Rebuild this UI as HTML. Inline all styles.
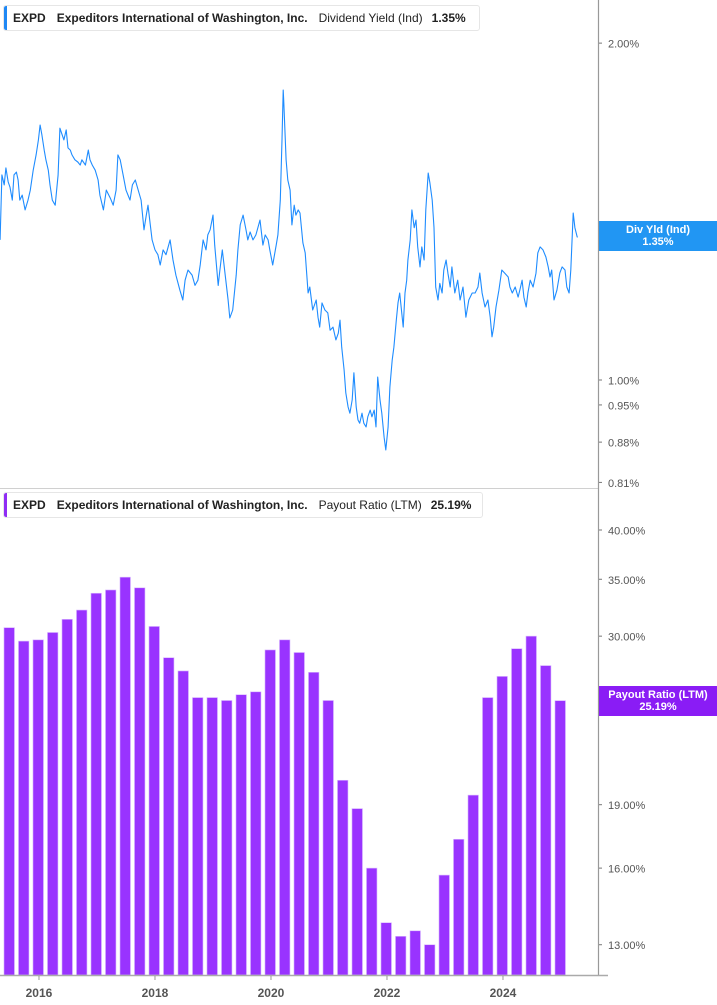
<!DOCTYPE html>
<html><head><meta charset="utf-8"><style>
body{margin:0;background:#fff;font-family:"Liberation Sans",sans-serif;}
#wrap{position:relative;width:717px;height:1005px;overflow:hidden;}
.legend{position:absolute;left:3px;height:24px;border:1px solid #e6e6e6;border-radius:3px;background:#fff;font-size:12px;line-height:24px;color:#222;white-space:nowrap;padding-left:9px;padding-right:10px;overflow:hidden;}
.legend .mk{position:absolute;left:0;top:0;width:3px;height:24px;border-radius:2px 0 0 2px;}
.legend b{font-weight:bold;margin-right:11px;}
.legend span{margin-right:9px;}
.tag{position:absolute;left:599px;width:118px;color:#fff;font-size:11px;font-weight:bold;text-align:center;line-height:12px;padding-top:3px;}
</style></head><body>
<div id="wrap">
<svg id="svg" width="717" height="1005" style="position:absolute;left:0;top:0"></svg>
<div class="legend" style="top:5px;width:456px"><div class="mk" style="background:#1e88f5"></div><b>EXPD</b><b>Expeditors International of Washington, Inc.</b><span>Dividend Yield (Ind)</span><b>1.35%</b></div>
<div class="legend" style="top:492px;width:459px"><div class="mk" style="background:#8f2cf5"></div><b>EXPD</b><b>Expeditors International of Washington, Inc.</b><span>Payout Ratio (LTM)</span><b>25.19%</b></div>
<div class="tag" style="top:221px;height:27px;background:#2196f3">Div Yld (Ind)<br>1.35%</div>
<div class="tag" style="top:686px;height:27px;background:#8a1cf5">Payout Ratio (LTM)<br>25.19%</div>
</div>
<script>
const yieldDates=[2015.33,2015.36,2015.40,2015.43,2015.47,2015.50,2015.54,2015.57,2015.61,2015.64,2015.67,2015.71,2015.76,2015.81,2015.85,2015.90,2015.95,2015.99,2016.02,2016.05,2016.09,2016.12,2016.16,2016.19,2016.23,2016.28,2016.33,2016.36,2016.40,2016.43,2016.47,2016.50,2016.54,2016.57,2016.62,2016.67,2016.71,2016.74,2016.80,2016.85,2016.88,2016.92,2016.97,2017.02,2017.05,2017.11,2017.16,2017.23,2017.28,2017.33,2017.36,2017.40,2017.45,2017.50,2017.57,2017.61,2017.66,2017.71,2017.76,2017.81,2017.85,2017.88,2017.92,2017.95,2018.00,2018.05,2018.09,2018.14,2018.19,2018.26,2018.31,2018.36,2018.43,2018.48,2018.52,2018.57,2018.64,2018.69,2018.74,2018.78,2018.83,2018.88,2018.91,2018.95,2019.00,2019.03,2019.09,2019.12,2019.16,2019.21,2019.26,2019.29,2019.34,2019.40,2019.43,2019.47,2019.52,2019.57,2019.60,2019.64,2019.69,2019.74,2019.81,2019.86,2019.90,2019.95,2019.98,2020.03,2020.09,2020.12,2020.16,2020.19,2020.21,2020.22,2020.26,2020.29,2020.33,2020.36,2020.40,2020.43,2020.47,2020.50,2020.55,2020.59,2020.64,2020.67,2020.72,2020.78,2020.81,2020.84,2020.88,2020.93,2020.98,2021.02,2021.07,2021.12,2021.16,2021.19,2021.22,2021.26,2021.29,2021.33,2021.36,2021.40,2021.43,2021.47,2021.50,2021.53,2021.57,2021.60,2021.64,2021.67,2021.71,2021.74,2021.78,2021.81,2021.84,2021.88,2021.91,2021.95,2021.98,2022.02,2022.05,2022.09,2022.12,2022.16,2022.19,2022.22,2022.28,2022.31,2022.34,2022.36,2022.40,2022.43,2022.47,2022.50,2022.53,2022.57,2022.60,2022.64,2022.67,2022.71,2022.74,2022.78,2022.81,2022.84,2022.88,2022.91,2022.95,2022.98,2023.02,2023.05,2023.09,2023.12,2023.17,2023.22,2023.26,2023.31,2023.36,2023.41,2023.47,2023.52,2023.57,2023.60,2023.64,2023.69,2023.74,2023.78,2023.81,2023.84,2023.88,2023.93,2023.98,2024.03,2024.09,2024.12,2024.16,2024.21,2024.26,2024.29,2024.33,2024.36,2024.40,2024.43,2024.47,2024.52,2024.57,2024.60,2024.64,2024.69,2024.74,2024.78,2024.81,2024.84,2024.88,2024.93,2024.98,2025.02,2025.07,2025.10,2025.14,2025.17,2025.21,2025.24,2025.28,2025.29];
const yieldValues=[1.334,1.525,1.494,1.547,1.503,1.487,1.448,1.525,1.534,1.509,1.448,1.463,1.419,1.448,1.478,1.540,1.589,1.639,1.690,1.656,1.605,1.573,1.540,1.494,1.448,1.433,1.525,1.679,1.656,1.639,1.673,1.612,1.605,1.589,1.573,1.566,1.556,1.573,1.556,1.605,1.573,1.556,1.540,1.509,1.463,1.419,1.478,1.454,1.433,1.478,1.589,1.573,1.525,1.478,1.448,1.494,1.509,1.478,1.448,1.362,1.404,1.433,1.376,1.334,1.307,1.294,1.267,1.307,1.294,1.334,1.280,1.241,1.203,1.179,1.228,1.254,1.241,1.215,1.228,1.267,1.334,1.307,1.348,1.362,1.404,1.320,1.215,1.254,1.307,1.241,1.179,1.136,1.155,1.241,1.307,1.376,1.404,1.362,1.334,1.356,1.334,1.348,1.390,1.320,1.348,1.334,1.307,1.267,1.320,1.348,1.448,1.639,1.816,1.779,1.573,1.509,1.478,1.376,1.433,1.404,1.419,1.410,1.326,1.299,1.196,1.211,1.155,1.179,1.138,1.115,1.172,1.155,1.148,1.108,1.115,1.086,1.101,1.131,1.070,1.021,0.974,0.946,0.934,0.960,1.015,0.946,0.921,0.915,0.934,0.915,0.908,0.927,0.940,0.927,0.940,0.908,1.006,0.960,0.934,0.889,0.866,0.908,0.986,1.042,1.070,1.131,1.172,1.196,1.115,1.196,1.228,1.280,1.334,1.419,1.368,1.390,1.315,1.262,1.315,1.280,1.419,1.531,1.500,1.448,1.368,1.211,1.179,1.220,1.196,1.254,1.280,1.246,1.211,1.262,1.196,1.228,1.179,1.211,1.138,1.179,1.196,1.196,1.211,1.246,1.196,1.162,1.179,1.138,1.093,1.115,1.162,1.203,1.254,1.246,1.236,1.211,1.196,1.211,1.186,1.203,1.228,1.186,1.162,1.196,1.228,1.211,1.246,1.299,1.315,1.307,1.288,1.262,1.236,1.254,1.179,1.203,1.246,1.262,1.254,1.211,1.196,1.254,1.410,1.368,1.342,1.342];
const yieldTicks=[2.00,1.00,0.95,0.88,0.81];
const quarters=["2015Q3","2015Q4","2016Q1","2016Q2","2016Q3","2016Q4","2017Q1","2017Q2","2017Q3","2017Q4","2018Q1","2018Q2","2018Q3","2018Q4","2019Q1","2019Q2","2019Q3","2019Q4","2020Q1","2020Q2","2020Q3","2020Q4","2021Q1","2021Q2","2021Q3","2021Q4","2022Q1","2022Q2","2022Q3","2022Q4","2023Q1","2023Q2","2023Q3","2023Q4","2024Q1","2024Q2","2024Q3","2024Q4","2025Q1"];
const payoutValues=[30.7,29.6,29.7,30.3,31.4,32.2,33.7,34.0,35.2,34.2,30.8,28.3,27.3,25.4,25.4,25.2,25.6,25.8,28.9,29.7,28.7,27.2,25.2,20.3,18.8,16.0,13.8,13.3,13.5,13.0,15.7,17.3,19.5,25.4,26.9,29.0,30.0,27.7,25.19];
const payoutTicks=[40,35,30,25,19,16,13];
const yearTicks=[2016,2018,2020,2022,2024];

const NS="http://www.w3.org/2000/svg";
const svg=document.getElementById('svg');
function el(tag,attrs,parent){const e=document.createElementNS(NS,tag);for(const k in attrs)e.setAttribute(k,attrs[k]);(parent||svg).appendChild(e);return e;}
const xS=t=>58*(t-2015.328);
const yTop=v=>380-486*Math.log(v);
const yBot=v=>530-369*Math.log(v/40);
const qDate=q=>+q.slice(0,4)+(+q.slice(5)-1)*0.25;

payoutValues.forEach((v,i)=>{
  const cx=xS(qDate(quarters[i]))-1, y=yBot(v);
  const r=el('rect',{x:cx-5,y:y,width:10.5,height:975-y,fill:'#9933ff',stroke:'#d9b8ff','stroke-width':0.6});
  
  
});
let d='';
yieldDates.forEach((t,i)=>{d+=(i?'L':'M')+xS(t).toFixed(1)+' '+yTop(yieldValues[i]).toFixed(1);});
const p=el('path',{d:d,fill:'none',stroke:'#1e8cff','stroke-width':1.1,'stroke-linejoin':'round'});


const sep=el('line',{x1:0,y1:488.5,x2:598,y2:488.5,stroke:'#d0d0d0','stroke-width':1});


const ax=el('line',{x1:598.5,y1:0,x2:598.5,y2:976,stroke:'#999','stroke-width':1.2});


const bx=el('line',{x1:0,y1:975.5,x2:608,y2:975.5,stroke:'#aaa','stroke-width':1.5});


function tick(y,label,name){
  const t=el('line',{x1:599,y1:y,x2:602,y2:y,stroke:'#777','stroke-width':1});
  
  
  const tx=el('text',{x:608,y:y+4.5,'font-size':11,fill:'#555','font-family':'Liberation Sans, sans-serif'});
  tx.textContent=label;
  
  
}
yieldTicks.forEach(v=>tick(yTop(v),v.toFixed(2)+'%','yield-axis'));
payoutTicks.forEach(v=>tick(yBot(v),v.toFixed(2)+'%','payout-axis'));
yearTicks.forEach(yr=>{
  const x=xS(yr);
  const t=el('line',{x1:x,y1:976,x2:x,y2:980,stroke:'#999','stroke-width':1});
  
  
  const tx=el('text',{x:x,y:997,'font-size':12,'font-weight':'bold',fill:'#555','text-anchor':'middle','font-family':'Liberation Sans, sans-serif'});
  tx.textContent=yr;
  
  
});
</script>
</body></html>
